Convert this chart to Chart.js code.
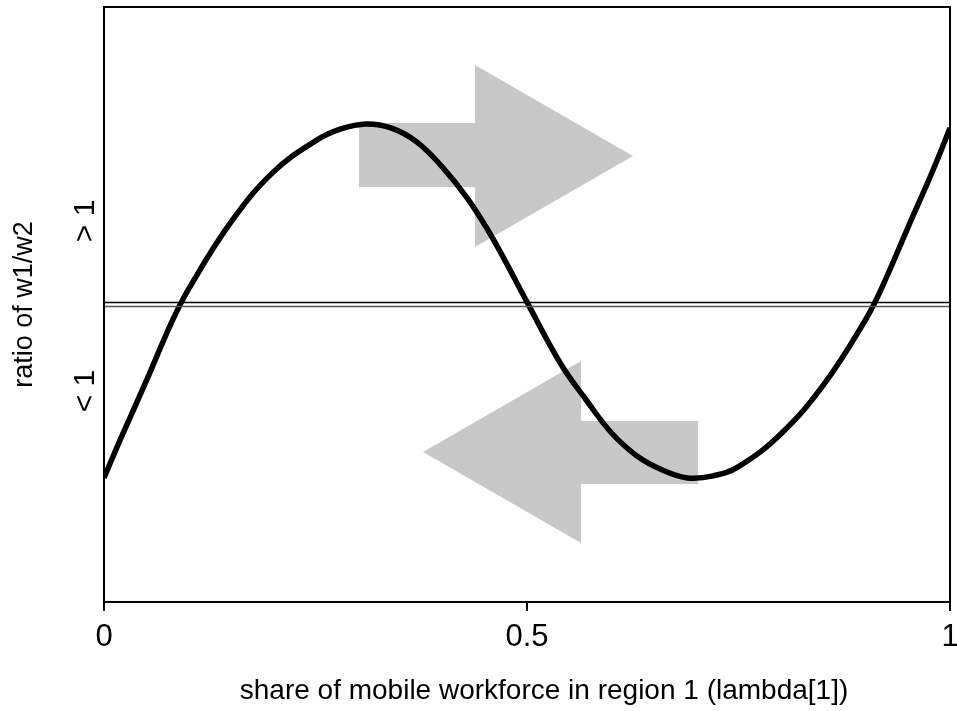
<!DOCTYPE html>
<html>
<head>
<meta charset="utf-8">
<script src="https://cdn.jsdelivr.net/npm/chart.js@4.4.1/dist/chart.umd.min.js"></script>
<style>
  html, body { margin: 0; padding: 0; background: #fff; }
  #wrap { width: 957px; height: 711px; }
</style>
</head>
<body>
<div id="wrap"><canvas id="myChart" width="957" height="711"></canvas></div>
<script>
// Datos
//? eje x: participación de la fuerza laboral móvil en la región 1
const lambdaValues = [0, 0.02, 0.05, 0.08, 0.1, 0.15, 0.2, 0.25, 0.28, 0.31, 0.34, 0.37, 0.4, 0.43, 0.46, 0.5,
  0.54, 0.57, 0.6, 0.63, 0.66, 0.69, 0.72, 0.75, 0.8, 0.85, 0.9, 0.92, 0.95, 0.98, 1];
//? eje y: razón w1/w2
const ratioValues = [0.9417, 0.9551, 0.9743, 0.9941, 1.0052, 1.0277, 1.0445, 1.055, 1.059, 1.0607, 1.0593, 1.0546, 1.0462, 1.0355, 1.022, 1.0008,
  0.98, 0.9679, 0.9568, 0.9491, 0.9444, 0.9417, 0.9424, 0.9455, 0.9565, 0.9728, 0.9948, 1.006, 1.0257, 1.0452, 1.0593];

//? líneas horizontales (razón = 1)
const hLineValues = [1.0007, 0.9993];

//? marcas del eje x
const xTickValues = [0, 0.5, 1];
//? etiquetas del eje y
const yLabelTexts = ["< 1", "> 1"];
const yLabelValues = [0.9709, 1.0281];
//? título del eje x
const xTitle = "share of mobile workforce in region 1 (lambda[1])";

//? flechas (en unidades de los datos)
const rightArrowX = [0.3014, 0.4385, 0.4385, 0.6253, 0.4385, 0.4385, 0.3014];
const rightArrowY = [1.061, 1.061, 1.0805, 1.0499, 1.0193, 1.0395, 1.0395];
const leftArrowX = [0.7021, 0.5638, 0.5638, 0.3771, 0.5638, 0.5638, 0.7021];
const leftArrowY = [0.9608, 0.9608, 0.981, 0.9504, 0.9198, 0.9397, 0.9397];

const fuente = "'Liberation Sans', Arial, Helvetica, sans-serif";

// Plugin para flechas, marco y textos
const extrasPlugin = {
  id: "extras",
  beforeDatasetsDraw(chart) {
    const { ctx, scales } = chart;
    const dibujarFlecha = (xs, ys) => {
      ctx.beginPath();
      xs.forEach((x, i) => {
        const px = scales.x.getPixelForValue(x);
        const py = scales.y.getPixelForValue(ys[i]);
        if (i === 0) ctx.moveTo(px, py);
        else ctx.lineTo(px, py);
      });
      ctx.closePath();
      ctx.fill();
    };
    ctx.save();
    ctx.fillStyle = "#c8c8c8";
    dibujarFlecha(rightArrowX, rightArrowY);
    dibujarFlecha(leftArrowX, leftArrowY);
    ctx.restore();
  },
  afterDatasetsDraw(chart) {
    const { ctx, chartArea, scales } = chart;
    ctx.save();
    //marco
    ctx.strokeStyle = "#000";
    ctx.lineWidth = 2;
    ctx.strokeRect(chartArea.left, chartArea.top, chartArea.right - chartArea.left, chartArea.bottom - chartArea.top);
    ctx.fillStyle = "#000";
    ctx.textAlign = "center";
    ctx.textBaseline = "middle";
    //etiquetas rotadas del eje y
    ctx.font = "30px " + fuente;
    yLabelTexts.forEach((txt, i) => {
      const py = scales.y.getPixelForValue(yLabelValues[i]);
      ctx.save();
      ctx.translate(86, py);
      ctx.rotate(-Math.PI / 2);
      ctx.fillText(txt, 0, 0);
      ctx.restore();
    });
    //título del eje x (algo corrido a la derecha como en el original)
    ctx.font = "28px " + fuente;
    ctx.fillText(xTitle, 544, 691);
    ctx.restore();
  },
};

//? crear data
function crearData() {
  const curva = lambdaValues.map((x, i) => ({ x, y: ratioValues[i] }));
  const lineas = hLineValues.map((v, i) => ({
    data: [{ x: 0, y: v }, { x: 1, y: v }],
    borderColor: i === 0 ? "#000" : "#555",
    borderWidth: 1.5,
    pointRadius: 0,
    showLine: true,
  }));
  return {
    datasets: [
      ...lineas,
      {
        data: curva,
        borderColor: "#000",
        borderWidth: 5.5,
        pointRadius: 0,
        showLine: true,
        tension: 0.4,
      },
    ],
  };
}

//? render grafico
function renderGrafica() {
  const ctx = document.getElementById("myChart");
  new Chart(ctx, {
    type: "scatter",
    data: crearData(),
    options: {
      responsive: false,
      animation: false,
      devicePixelRatio: 1,
      layout: { padding: { top: 7, right: 7, left: 0, bottom: 0 } },
      plugins: { legend: { display: false }, tooltip: { enabled: false } },
      scales: {
        x: {
          type: "linear",
          min: 0,
          max: 1,
          afterBuildTicks: (scale) => {
            scale.ticks = xTickValues.map((v) => ({ value: v }));
          },
          afterFit: (scale) => {
            scale.height = 109;
            scale.paddingLeft = 0;
            scale.paddingRight = 0;
          },
          ticks: {
            color: "#000",
            font: { family: fuente, size: 31 },
            padding: 8,
            maxRotation: 0,
            callback: (v) => String(v),
          },
          grid: { drawOnChartArea: false, drawTicks: true, tickLength: 9, color: "#000", lineWidth: 2 },
          border: { display: true, color: "#000", width: 2 },
          title: { display: false },
        },
        y: {
          type: "linear",
          min: 0.9,
          max: 1.1,
          afterFit: (scale) => {
            scale.width = 104;
          },
          ticks: { display: false },
          grid: { display: false },
          border: { display: true, color: "#000", width: 2 },
          title: {
            display: true,
            text: "ratio of w1/w2",
            color: "#000",
            font: { family: fuente, size: 27 },
            padding: { top: 8, bottom: 0 },
          },
        },
      },
    },
    plugins: [extrasPlugin],
  });
}

renderGrafica();
</script>
</body>
</html>
